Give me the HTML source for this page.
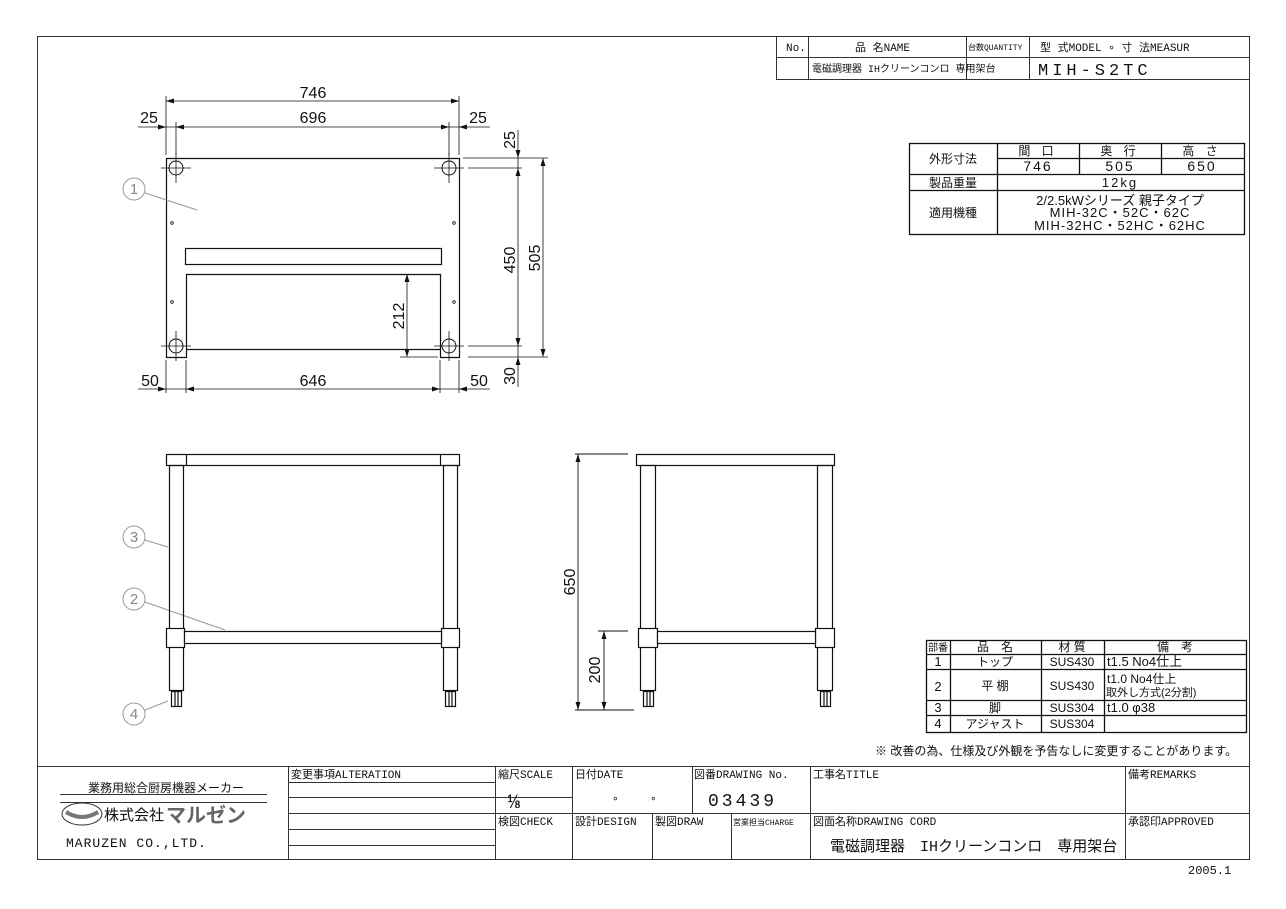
<!DOCTYPE html>
<html><head><meta charset="utf-8"><style>
html,body{margin:0;padding:0;background:#fff;}
svg{display:block;}
text{font-family:"Liberation Sans","Noto Sans CJK JP",sans-serif;fill:#111;}
.m text, text.m{font-family:"Liberation Mono","Noto Sans CJK JP",monospace;}
</style></head><body>
<svg width="1286" height="909" viewBox="0 0 1286 909" xmlns="http://www.w3.org/2000/svg">
<rect width="1286" height="909" fill="#fff"/>
<g stroke="#333" stroke-width="1" fill="none">
<rect x="37.5" y="36.5" width="1212" height="823"/>
<rect x="776.5" y="36.5" width="473" height="43" fill="#fff"/>
<line x1="776" y1="57.5" x2="1250" y2="57.5"/>
<line x1="808.5" y1="36" x2="808.5" y2="80"/>
<line x1="966.5" y1="36" x2="966.5" y2="80"/>
<line x1="1029.5" y1="36" x2="1029.5" y2="80"/>
<g stroke="#111" stroke-width="1.3">
<rect x="909.5" y="143.5" width="335" height="91"/>
<line x1="997.5" y1="143" x2="997.5" y2="234"/>
<line x1="1079.5" y1="143" x2="1079.5" y2="159"/>
<line x1="1161.5" y1="143" x2="1161.5" y2="174"/>
<line x1="1079.5" y1="159" x2="1079.5" y2="174"/>
<line x1="997" y1="158.5" x2="1244" y2="158.5"/>
<line x1="909" y1="174.5" x2="1244" y2="174.5"/>
<line x1="909" y1="190.5" x2="1244" y2="190.5"/>
<rect x="926.5" y="640.5" width="320" height="92"/>
<line x1="950.5" y1="640" x2="950.5" y2="732"/>
<line x1="1041.5" y1="640" x2="1041.5" y2="732"/>
<line x1="1104.5" y1="640" x2="1104.5" y2="732"/>
<line x1="926" y1="654.5" x2="1246" y2="654.5"/>
<line x1="926" y1="669.5" x2="1246" y2="669.5"/>
<line x1="926" y1="700.5" x2="1246" y2="700.5"/>
<line x1="926" y1="715.5" x2="1246" y2="715.5"/>
</g>
<line x1="37" y1="766.5" x2="1250" y2="766.5"/>
<line x1="288.5" y1="766" x2="288.5" y2="860"/>
<line x1="495.5" y1="766" x2="495.5" y2="860"/>
<line x1="572.5" y1="766" x2="572.5" y2="860"/>
<line x1="692.5" y1="766" x2="692.5" y2="813"/>
<line x1="810.5" y1="766" x2="810.5" y2="860"/>
<line x1="1125.5" y1="766" x2="1125.5" y2="860"/>
<line x1="652.5" y1="813" x2="652.5" y2="860"/>
<line x1="731.5" y1="813" x2="731.5" y2="860"/>
<line x1="495" y1="813.5" x2="1250" y2="813.5"/>
<line x1="288" y1="782.5" x2="495" y2="782.5"/>
<line x1="288" y1="797.5" x2="495" y2="797.5"/>
<line x1="288" y1="813.5" x2="495" y2="813.5"/>
<line x1="288" y1="829.5" x2="495" y2="829.5"/>
<line x1="288" y1="845.5" x2="495" y2="845.5"/>
<line x1="495" y1="797.5" x2="572" y2="797.5"/>
<line x1="60" y1="794.5" x2="267" y2="794.5"/>
<line x1="60" y1="802.5" x2="267" y2="802.5"/>
<ellipse cx="82" cy="814" rx="20" ry="11"/>
<path d="M66 812 Q82 822 98 812" stroke-width="4" stroke="#777"/>
</g>

<g stroke="#111" stroke-width="1.2" fill="none">
<path d="M166.5 357.5 V158.5 H459.5 V357.5 H440.5 V274.5 H186.5 V357.5 Z"/>
<line x1="186" y1="349.5" x2="440" y2="349.5"/>
<rect x="185.5" y="248.5" width="256" height="16"/>
<g stroke-width="1">
<circle cx="176" cy="168" r="7"/><circle cx="449" cy="168" r="7"/>
<circle cx="176" cy="346" r="7"/><circle cx="449" cy="346" r="7"/>
</g>
<g stroke-width="0.8">
<line x1="161" y1="168" x2="191" y2="168"/><line x1="176" y1="153" x2="176" y2="183"/>
<line x1="434" y1="168" x2="464" y2="168"/><line x1="449" y1="153" x2="449" y2="183"/>
<line x1="161" y1="346" x2="191" y2="346"/><line x1="176" y1="331" x2="176" y2="361"/>
<line x1="434" y1="346" x2="464" y2="346"/><line x1="449" y1="331" x2="449" y2="361"/>
<circle cx="172" cy="223" r="1.3"/><circle cx="454" cy="223" r="1.3"/>
<circle cx="172" cy="302" r="1.3"/><circle cx="454" cy="302" r="1.3"/>
<line x1="166" y1="101" x2="459" y2="101"/>
<line x1="166" y1="96" x2="166" y2="155"/><line x1="459" y1="96" x2="459" y2="155"/>
<line x1="176" y1="122" x2="176" y2="155"/><line x1="449" y1="122" x2="449" y2="155"/>
<line x1="138" y1="127" x2="490" y2="127"/>
<line x1="463" y1="158" x2="548" y2="158"/>
<line x1="468" y1="168" x2="522" y2="168"/>
<line x1="468" y1="346" x2="522" y2="346"/>
<line x1="468" y1="357" x2="548" y2="357"/>
<line x1="518" y1="130" x2="518" y2="387"/>
<line x1="543" y1="158" x2="543" y2="357"/>
<line x1="407" y1="274" x2="407" y2="357"/>
<line x1="400" y1="357" x2="438" y2="357"/>
<line x1="138" y1="389" x2="490" y2="389"/>
<line x1="166" y1="360" x2="166" y2="393"/><line x1="186" y1="360" x2="186" y2="393"/>
<line x1="440" y1="360" x2="440" y2="393"/><line x1="459" y1="360" x2="459" y2="393"/>
</g>
<g fill="#111" stroke="none">
<path d="M166 101 l8 -2.5 v5z M459 101 l-8 -2.5 v5z"/>
<path d="M176 127 l8 -2.5 v5z M449 127 l-8 -2.5 v5z M166 127 l-8 -2.5 v5z M459 127 l8 -2.5 v5z"/>
<path d="M543 158 l-2.5 8 h5z M543 357 l-2.5 -8 h5z"/>
<path d="M518 168 l-2.5 8 h5z M518 346 l-2.5 -8 h5z M518 158 l-2.5 -8 h5z M518 357 l-2.5 8 h5z"/>
<path d="M407 274 l-2.5 8 h5z M407 357 l-2.5 -8 h5z"/>
<path d="M186 389 l8 -2.5 v5z M440 389 l-8 -2.5 v5z M166 389 l-8 -2.5 v5z M459 389 l8 -2.5 v5z"/>
</g>
</g>
<g stroke="#999" stroke-width="1" fill="none">
<circle cx="134" cy="189" r="11"/><line x1="145" y1="193" x2="197" y2="210"/>
<circle cx="134" cy="537" r="11"/><line x1="145" y1="540" x2="168" y2="547"/>
<circle cx="134" cy="599" r="11"/><line x1="145" y1="602" x2="225" y2="630"/>
<circle cx="134" cy="714" r="11"/><line x1="145" y1="710" x2="168" y2="701"/>
</g>
<g font-size="15" text-anchor="middle">
<text x="134" y="194" style="fill:#888">1</text><text x="134" y="542" style="fill:#888">3</text>
<text x="134" y="604" style="fill:#888">2</text><text x="134" y="719" style="fill:#888">4</text>
</g>
<g font-size="16" text-anchor="middle">
<text x="313" y="98">746</text><text x="313" y="123">696</text>
<text x="149" y="123">25</text><text x="478" y="123">25</text>
<text x="313" y="386">646</text>
<text x="150" y="386">50</text><text x="479" y="386">50</text>
<text transform="translate(515,140) rotate(-90)">25</text>
<text transform="translate(515,260) rotate(-90)">450</text>
<text transform="translate(540,258) rotate(-90)">505</text>
<text transform="translate(515,376) rotate(-90)">30</text>
<text transform="translate(404,316) rotate(-90)">212</text>
<text transform="translate(575,582) rotate(-90)">650</text>
<text transform="translate(600,670) rotate(-90)">200</text>
</g>

<g stroke="#111" stroke-width="1.2" fill="none">
<rect x="166.5" y="454.5" width="293" height="11"/>
<line x1="186.5" y1="454" x2="186.5" y2="465"/><line x1="440.5" y1="454" x2="440.5" y2="465"/>
<rect x="169.5" y="465.5" width="14" height="225"/>
<rect x="443.5" y="465.5" width="14" height="225"/>
<rect x="166.5" y="628.5" width="18" height="19" fill="#fff"/>
<rect x="441.5" y="628.5" width="18" height="19" fill="#fff"/>
<rect x="184.5" y="631.5" width="257" height="12" fill="#fff"/>
<rect x="171.5" y="691.5" width="10" height="15"/><rect x="445.5" y="691.5" width="10" height="15"/>
<line x1="175" y1="692" x2="175" y2="706"/><line x1="178" y1="692" x2="178" y2="706"/>
<line x1="449" y1="692" x2="449" y2="706"/><line x1="452" y1="692" x2="452" y2="706"/>
</g>
<g stroke="#111" stroke-width="1.2" fill="none">
<rect x="636.5" y="454.5" width="198" height="11"/>
<rect x="640.5" y="465.5" width="15" height="225"/>
<rect x="817.5" y="465.5" width="15" height="225"/>
<rect x="638.5" y="628.5" width="19" height="19" fill="#fff"/>
<rect x="815.5" y="628.5" width="19" height="19" fill="#fff"/>
<rect x="657.5" y="631.5" width="158" height="12" fill="#fff"/>
<rect x="643.5" y="691.5" width="10" height="15"/><rect x="820.5" y="691.5" width="10" height="15"/>
<line x1="647" y1="692" x2="647" y2="706"/><line x1="650" y1="692" x2="650" y2="706"/>
<line x1="824" y1="692" x2="824" y2="706"/><line x1="827" y1="692" x2="827" y2="706"/>
<g stroke-width="0.9">
<line x1="575" y1="454" x2="628" y2="454"/><line x1="575" y1="710" x2="634" y2="710"/>
<line x1="578" y1="454" x2="578" y2="710"/>
<line x1="598" y1="631" x2="628" y2="631"/><line x1="604" y1="631" x2="604" y2="710"/>
</g>
<g fill="#111" stroke="none">
<path d="M578 454 l-2.5 8 h5z M578 710 l-2.5 -8 h5z M604 631 l-2.5 8 h5z M604 710 l-2.5 -8 h5z"/>
</g>
</g>

<g class="m" font-size="11">
<text x="786" y="51">No.</text>
<text x="855" y="51" font-size="11">品 名NAME</text>
<text x="968" y="50" font-size="8">台数QUANTITY</text>
<text x="1040" y="51" font-size="11">型 式MODEL ∘ 寸 法MEASUR</text>
<text x="812" y="72" font-size="10">電磁調理器 IHクリーンコンロ 専用架台</text>
<text x="1038" y="75" font-size="17" letter-spacing="4">MIH-S2TC</text>
</g>
<g font-size="12" text-anchor="middle">
<text x="953" y="163">外形寸法</text>
<text x="953" y="187">製品重量</text>
<text x="953" y="217">適用機種</text>
<text x="1038" y="155" letter-spacing="4">間 口</text>
<text x="1120" y="155" letter-spacing="4">奥 行</text>
<text x="1202" y="155" letter-spacing="4">高 さ</text>
<text x="1038" y="171" font-size="14" letter-spacing="2">746</text>
<text x="1120" y="171" font-size="14" letter-spacing="2">505</text>
<text x="1202" y="171" font-size="14" letter-spacing="2">650</text>
<text x="1120" y="187" font-size="13" letter-spacing="2">12kg</text>
<text x="1120" y="205" font-size="13">2/2.5kWシリーズ 親子タイプ</text>
<text x="1120" y="217" font-size="13" letter-spacing="1">MIH-32C・52C・62C</text>
<text x="1120" y="230" font-size="13" letter-spacing="1">MIH-32HC・52HC・62HC</text>
</g>
<g font-size="12" text-anchor="middle">
<text x="938" y="651" font-size="10">部番</text>
<text x="995" y="651">品　名</text>
<text x="1072" y="651">材 質</text>
<text x="1175" y="651">備　考</text>
<text x="938" y="666" font-size="13">1</text><text x="995" y="666">トップ</text><text x="1072" y="666">SUS430</text>
<text x="938" y="691" font-size="13">2</text><text x="995" y="690">平 棚</text><text x="1072" y="690">SUS430</text>
<text x="938" y="712" font-size="13">3</text><text x="995" y="712">脚</text><text x="1072" y="712">SUS304</text>
<text x="938" y="728" font-size="13">4</text><text x="995" y="728">アジャスト</text><text x="1072" y="728">SUS304</text>
</g>
<g font-size="12">
<text x="1107" y="666" font-size="13">t1.5 No4仕上</text>
<text x="1107" y="683" font-size="12">t1.0 No4仕上</text>
<text x="1106" y="696" font-size="11">取外し方式(2分割)</text>
<text x="1107" y="712" font-size="13">t1.0 φ38</text>
<text x="875" y="755" font-size="12">※ 改善の為、仕様及び外観を予告なしに変更することがあります。</text>
</g>
<g class="m" font-size="11">
<text x="88" y="792" font-size="12">業務用総合厨房機器メーカー</text>
<text x="104" y="820" font-size="15">株式会社</text>
<text x="166" y="822" font-size="20" style="fill:#666" font-weight="bold">マルゼン</text>
<text x="66" y="847" font-size="13" letter-spacing="1">MARUZEN CO.,LTD.</text>
<text x="291" y="778">変更事項ALTERATION</text>
<text x="498" y="778">縮尺SCALE</text>
<text x="508" y="808" font-size="20">⅛</text>
<text x="575" y="778">日付DATE</text>
<text x="612" y="802">∘</text><text x="650" y="802">∘</text>
<text x="694" y="778">図番DRAWING No.</text>
<text x="708" y="806" font-size="18" letter-spacing="3">03439</text>
<text x="813" y="778">工事名TITLE</text>
<text x="1128" y="778">備考REMARKS</text>
<text x="498" y="825">検図CHECK</text>
<text x="575" y="825">設計DESIGN</text>
<text x="655" y="825">製図DRAW</text>
<text x="733" y="825" font-size="8">営業担当CHARGE</text>
<text x="813" y="825">図面名称DRAWING CORD</text>
<text x="1128" y="825">承認印APPROVED</text>
<text x="830" y="851" font-size="15">電磁調理器　IHクリーンコンロ　専用架台</text>
<text x="1188" y="874" font-size="12">2005.1</text>
</g>
</svg>
</body></html>
